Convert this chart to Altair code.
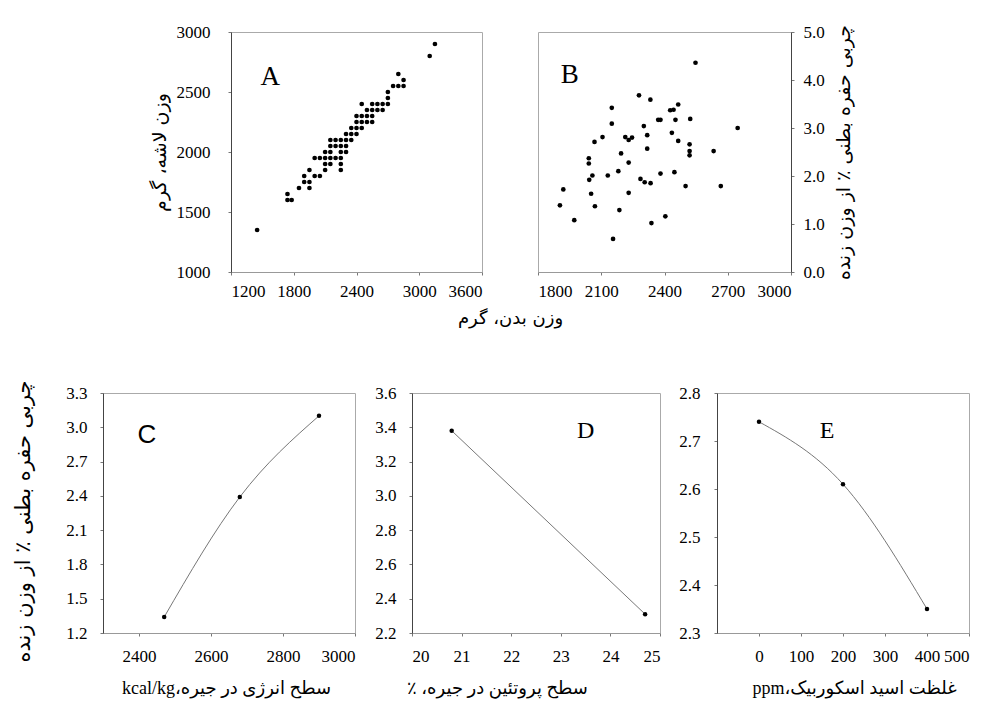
import altair as alt
import pandas as pd

# ---------------- data ----------------
# Panel A: body weight (g) vs carcass weight (g)
a_body = [1450, 1740, 1780, 1740, 1850, 1950, 1900, 1950, 1900, 2000, 2050,
          1950, 2100, 2250, 2100, 2150, 2250,
          2000, 2050, 2100, 2150, 2200, 2250,
          2100, 2150, 2250, 2300, 2150, 2200, 2250, 2300,
          2150, 2200, 2250, 2300, 2350, 2300, 2350, 2400,
          2350, 2400, 2450, 2400, 2450, 2500, 2550,
          2400, 2450, 2500, 2550, 2500, 2550, 2600, 2650,
          2450, 2550, 2600, 2650, 2700, 2700, 2700,
          2750, 2800, 2850, 2850, 2800, 3100, 3150]
a_carcass = [1350, 1600, 1600, 1650, 1700, 1700, 1750, 1750, 1800, 1800, 1800,
             1850, 1850, 1850, 1900, 1900, 1900,
             1950, 1950, 1950, 1950, 1950, 1950,
             2000, 2000, 2000, 2000, 2050, 2050, 2050, 2050,
             2100, 2100, 2100, 2100, 2100, 2150, 2150, 2150,
             2200, 2200, 2200, 2250, 2250, 2250, 2250,
             2300, 2300, 2300, 2300, 2350, 2350, 2350, 2350,
             2400, 2400, 2400, 2400, 2400, 2450, 2500,
             2550, 2550, 2550, 2600, 2650, 2800, 2900]

# Panel B: body weight (g) vs abdominal fat (% of live weight)
b_body = [2547, 2279, 2333, 2150, 2465, 2427, 2443, 2370, 2381, 2452, 2522, 2150,
          2302, 2747, 2106, 2068, 2214, 2230, 2246, 2318, 2435, 2465, 2519, 2519,
          2519, 2633, 2318, 2194, 2041, 2041, 2230, 2131, 2181, 2381, 2447, 2058,
          2043, 2286, 2306, 2334, 2500, 2667, 1920, 2052, 2230, 1904, 2070, 2186,
          1972, 2338, 2404, 2156]
b_fat = [4.36, 3.68, 3.59, 3.42, 3.49, 3.37, 3.38, 3.17, 3.17, 3.17, 3.19, 3.09,
         3.04, 3.00, 2.81, 2.71, 2.81, 2.75, 2.80, 2.85, 2.90, 2.73, 2.66, 2.52,
         2.43, 2.52, 2.57, 2.47, 2.37, 2.26, 2.28, 2.01, 2.10, 2.05, 2.08, 2.01,
         1.92, 1.94, 1.87, 1.85, 1.79, 1.79, 1.72, 1.63, 1.65, 1.39, 1.37, 1.29,
         1.08, 1.02, 1.16, 0.69]

# Panel C: dietary energy (kcal/kg)
c_energy = [2470, 2680, 2900]
c_fat = [1.34, 2.39, 3.10]
# Panel D: dietary protein (%)
d_protein = [20.8, 24.7]
d_fat = [3.38, 2.31]
# Panel E: ascorbic acid (ppm)
e_ascorbic = [0, 200, 400]
e_fat = [2.74, 2.61, 2.35]

# axis tick values
a_xticks = [1200, 1800, 2400, 3000, 3600]
a_yticks = [1000, 1500, 2000, 2500, 3000]
b_xticks = [1800, 2100, 2400, 2700, 3000]
b_yticks = [0, 1, 2, 3, 4, 5]
c_xticks = [2400, 2600, 2800, 3000]
c_yticks = [1.2, 1.5, 1.8, 2.1, 2.4, 2.7, 3.0, 3.3]
d_xticks = [20, 21, 22, 23, 24, 25]
d_yticks = [2.2, 2.4, 2.6, 2.8, 3.0, 3.2, 3.4, 3.6]
e_xticks = [0, 100, 200, 300, 400, 500]
e_yticks = [2.3, 2.4, 2.5, 2.6, 2.7, 2.8]

# panel letters (data coordinates)
letters = ["A", "B", "C", "D", "E"]
letter_x = [1575, 1950, 2422, 23.5, 162]
letter_y = [2625, 4.1, 2.93, 3.38, 2.72]

# texts
t_carcass = "وزن لاشه، گرم"
t_body = "وزن بدن، گرم"
t_fat = "چربی حفره بطنی ٪ از وزن زنده"
t_energy = "kcal/kg،سطح انرژی در جیره"
t_protein = "٪ ،سطح پروتئین در جیره"
t_ascorbic = "ppm،غلظت اسید اسکوربیک"

SERIF = "Liberation Serif"
FA = "Liberation Serif, DejaVu Sans"
H = 240


def letter_layer(i, xenc, yenc, font=SERIF, size=24):
    df = pd.DataFrame({"x": [letter_x[i]], "y": [letter_y[i]], "t": [letters[i]]})
    return alt.Chart(df).mark_text(font=font, fontSize=size, color="black").encode(
        x=xenc, y=yenc, text="t:N")


def points(df, xenc, yenc, size=22):
    return alt.Chart(df).mark_circle(size=size, color="black", opacity=1).encode(x=xenc, y=yenc)


def xaxis(values, fmt, **kw):
    return alt.Axis(values=values, format=fmt, labelOverlap=False, domainColor="#999", **kw)


def yaxis(values, fmt, **kw):
    return alt.Axis(values=values, format=fmt, labelOverlap=False, domainColor="#444", **kw)


# ---------------- panel A ----------------
dfa = pd.DataFrame({"x": a_body, "y": a_carcass})
xa = alt.X("x:Q", scale=alt.Scale(domain=[1200, 3600], nice=False),
           axis=xaxis(a_xticks, "d", title=t_body, titleX=279, titleY=46, titleBaseline="middle",
                      titleAlign="center", titleFontSize=18, labelPadding=8))
ya = alt.Y("y:Q", scale=alt.Scale(domain=[1000, 3000], nice=False),
           axis=yaxis(a_yticks, "d", title=t_carcass, titleX=-72, titleY=120, titleAngle=270,
                      titleFontSize=19, titleBaseline="middle", titleAlign="center", labelPadding=18))
chart_a = alt.layer(points(dfa, xa, ya), letter_layer(0, xa, ya, size=27)).properties(width=251, height=H)

# ---------------- panel B ----------------
dfb = pd.DataFrame({"x": b_body, "y": b_fat})
xb = alt.X("x:Q", scale=alt.Scale(domain=[1800, 3000], nice=False),
           axis=xaxis(b_xticks, "d", title=None, labelPadding=8))
yb = alt.Y("y:Q", scale=alt.Scale(domain=[0, 5], nice=False),
           axis=yaxis(b_yticks, ".1f", orient="right",
                      title=t_fat, titleX=52, titleY=120, titleAngle=270, titleFontSize=19,
                      titleBaseline="middle", titleAlign="center", labelPadding=9))
chart_b = alt.layer(points(dfb, xb, yb), letter_layer(1, xb, yb, size=27)).properties(width=253, height=H)

# spacer to shift the top row
spacer = alt.Chart(pd.DataFrame({"v": [0]})).mark_point(opacity=0).encode(
    x=alt.X("v:Q", axis=None), y=alt.Y("v:Q", axis=None)
).properties(width=72, height=H, view=alt.ViewBackground(strokeOpacity=0))

top = alt.hconcat(spacer, chart_a, chart_b, spacing=56, bounds="flush")

# ---------------- panel C ----------------
dfc = pd.DataFrame({"x": c_energy, "y": c_fat})
xc = alt.X("x:Q", scale=alt.Scale(domain=[2300, 3000], nice=False),
           axis=xaxis(c_xticks, "d", title=t_energy,
                      titleX=123, titleY=55, titleBaseline="middle", titleAlign="center",
                      titleFont=FA, titleFontSize=18, labelPadding=12))
yc = alt.Y("y:Q", scale=alt.Scale(domain=[1.2, 3.3], nice=False),
           axis=yaxis(c_yticks, ".1f",
                      title=t_fat, titleX=-80, titleY=128, titleAngle=270, titleFontSize=21,
                      titleBaseline="middle", titleAlign="center", labelPadding=13))
chart_c = alt.layer(
    alt.Chart(dfc).mark_line(color="#777", strokeWidth=1, interpolate="monotone").encode(x=xc, y=yc),
    points(dfc, xc, yc, 20),
    letter_layer(2, xc, yc, font="Liberation Sans", size=26),
).properties(width=252, height=H)

# ---------------- panel D ----------------
dfd = pd.DataFrame({"x": d_protein, "y": d_fat})
xd = alt.X("x:Q", scale=alt.Scale(domain=[20, 25], nice=False),
           axis=xaxis(d_xticks, "d", title=t_protein,
                      titleX=85, titleY=55, titleBaseline="middle", titleAlign="center",
                      titleFont=FA, titleFontSize=18, labelPadding=12))
yd = alt.Y("y:Q", scale=alt.Scale(domain=[2.2, 3.6], nice=False),
           axis=yaxis(d_yticks, ".1f", title=None, labelPadding=13))
chart_d = alt.layer(
    alt.Chart(dfd).mark_line(color="#777", strokeWidth=1).encode(x=xd, y=yd),
    points(dfd, xd, yd, 20),
    letter_layer(3, xd, yd, size=24),
).properties(width=248, height=H)

# ---------------- panel E ----------------
dfe = pd.DataFrame({"x": e_ascorbic, "y": e_fat})
xe = alt.X("x:Q", scale=alt.Scale(domain=[-100, 500], nice=False),
           axis=xaxis(e_xticks, "d", title=t_ascorbic,
                      titleX=137, titleY=55, titleBaseline="middle", titleAlign="center",
                      titleFont=FA, titleFontSize=18, labelPadding=12))
ye = alt.Y("y:Q", scale=alt.Scale(domain=[2.3, 2.8], nice=False),
           axis=yaxis(e_yticks, ".1f", title=None, labelPadding=14))
chart_e = alt.layer(
    alt.Chart(dfe).mark_line(color="#777", strokeWidth=1, interpolate="monotone").encode(x=xe, y=ye),
    points(dfe, xe, ye, 20),
    letter_layer(4, xe, ye, size=24),
).properties(width=252, height=H)

bottom = alt.hconcat(chart_c, chart_d, chart_e, spacing=57, bounds="flush")

chart = alt.vconcat(top, bottom, spacing=51).properties(
    padding={"left": 3, "top": 14, "right": 5, "bottom": 5}
).configure_view(
    stroke="#aaa", strokeWidth=1
).configure_axis(
    grid=False, domainWidth=1, tickColor="#777", tickSize=3,
    labelFont=SERIF, labelFontSize=17, labelColor="black",
    titleFont="DejaVu Sans", titleFontSize=16, titleFontWeight="normal", titleColor="black"
)

chart.save("out.html", embed_options={"renderer": "svg", "actions": False})
